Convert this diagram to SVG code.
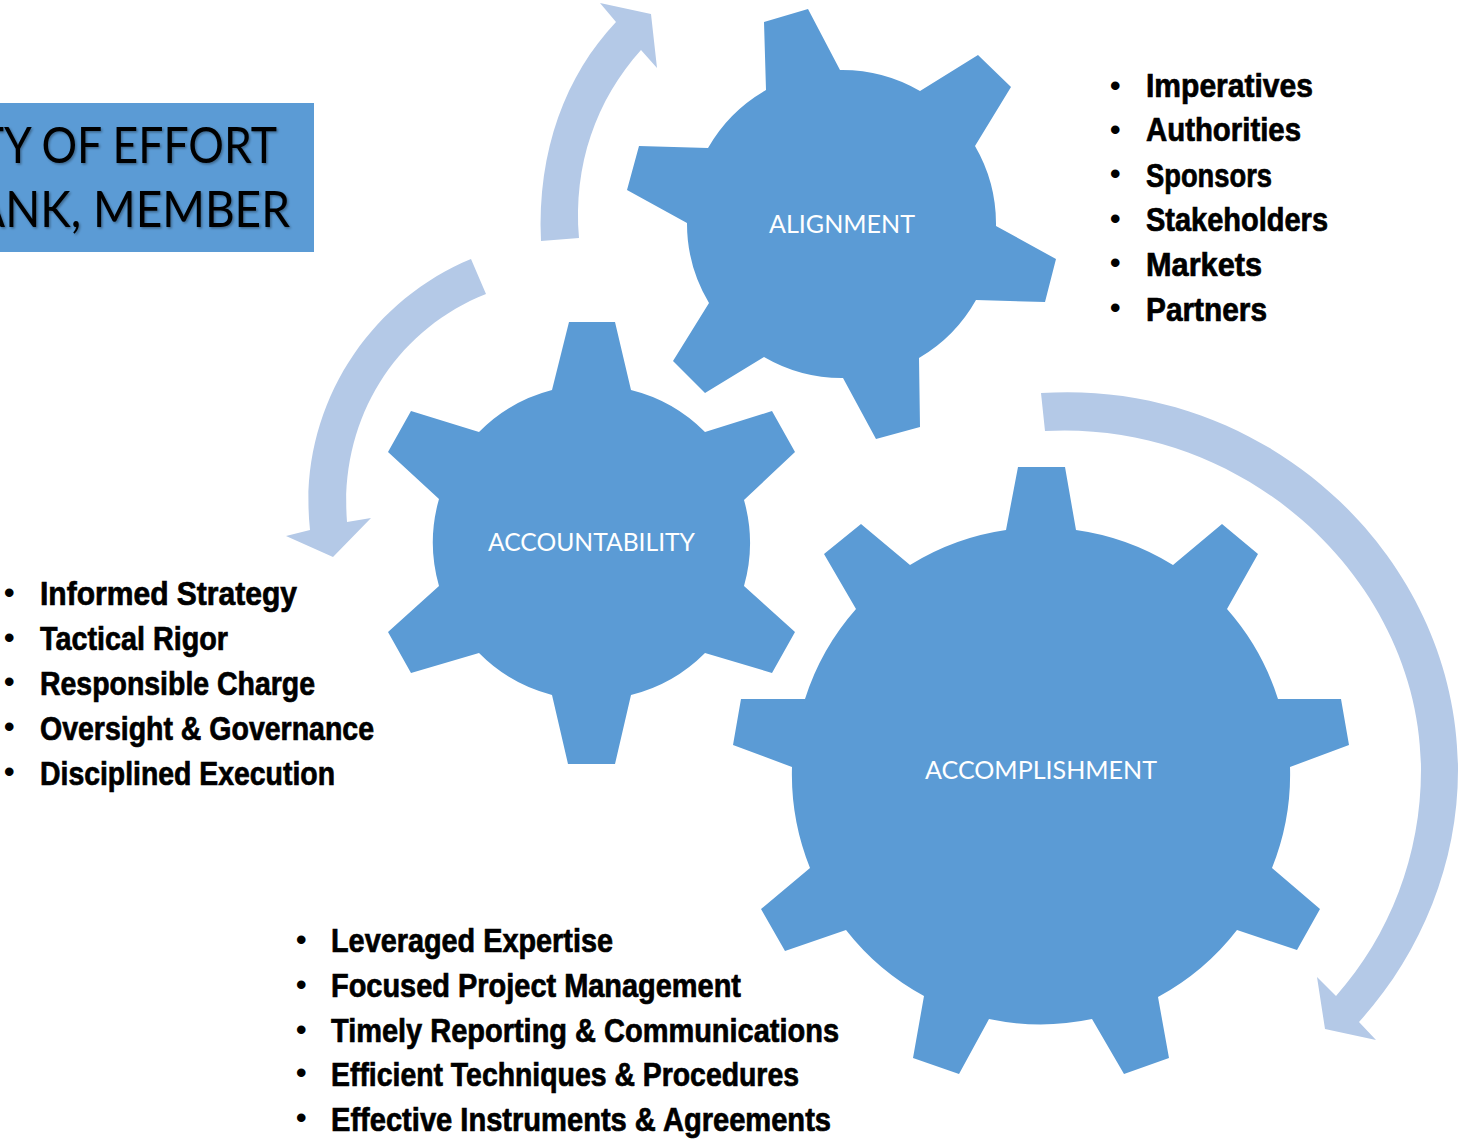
<svg xmlns="http://www.w3.org/2000/svg" width="1460" height="1140" viewBox="0 0 1460 1140">
<defs>
<filter id="shadow" x="-5%" y="-5%" width="110%" height="120%"><feDropShadow dx="1.5" dy="1.5" stdDeviation="1" flood-color="#000" flood-opacity="0.35"/></filter>
</defs>
<style>
.gear{fill:#5b9bd5}
.arrow{fill:#b4c9e7}
.lab{font-family:"Lato","Open Sans",sans-serif;font-size:25.5px;fill:#fff}
.title{font-family:"Lato","Open Sans",sans-serif;font-size:50px;fill:#000;text-anchor:end;filter:url(#shadow)}
.b{font-family:"Liberation Sans Narrow","Liberation Sans",sans-serif;font-weight:700;font-size:33px;fill:#000;stroke:#000;stroke-width:.7px}
.d{font-family:"Liberation Sans",sans-serif;font-weight:700;font-size:30px;fill:#000}
</style>
<rect x="-2" y="103" width="316" height="149" fill="#5b9bd5"/>
<text class="title" transform="translate(277 163) scale(.89 1)">TY OF EFFORT</text>
<text class="title" transform="translate(290 227) scale(.92 1)">ANK, MEMBER</text>
<g id="connectors">
<path class="arrow" d="M541 241C537 150 566 75 616 22L600 3L651 14L657 68L641 50C596 100 573 165 579 238Z"/>
<path class="arrow" d="M471 259C367 302 297 410 310 530L286 536L333 557L371 518L347 522C339 420 395 330 486 294Z"/>
<path class="arrow" d="M1041 393C1270 378 1458 560 1458 770C1458 865 1420 955 1359 1022L1376 1040L1325 1029L1317 977L1336 996C1390 935 1421 855 1421 770C1421 585 1250 420 1045 431Z"/>
</g>
<g id="alignment">
<path class="gear" d="M764 22L808 9L840 70A155 155 0 0 1 920 91L978 55L1011 87L975 146A155 155 0 0 1 996 226L1056 259L1045 302L976 300A155 155 0 0 1 919 358L920 427L876 439L843 378A155 155 0 0 1 764 357L705 393L673 361L709 303A155 155 0 0 1 687 223L627 190L639 146L708 148A155 155 0 0 1 766 90Z"/>
<text class="lab" x="769" y="233" textLength="146" lengthAdjust="spacingAndGlyphs">ALIGNMENT</text>
</g>
<g id="accountability">
<path class="gear" d="M569 322L615 322L631 390A158 158 0 0 1 705 432L772 411L795 452L744 500A158 158 0 0 1 744 586L795 632L772 673L705 653A158 158 0 0 1 631 695L615 764L568 764L552 695A158 158 0 0 1 479 653L411 673L388 632L439 586A158 158 0 0 1 439 499L388 452L411 411L479 432A158 158 0 0 1 552 390Z"/>
<text class="lab" x="488" y="551" textLength="207" lengthAdjust="spacingAndGlyphs">ACCOUNTABILITY</text>
</g>
<g id="accomplishment">
<path class="gear" d="M1018 467L1065 467L1076 530A250 250 0 0 1 1173 565L1222 524L1258 554L1227 609A250 250 0 0 1 1278 699L1341 699L1349 745L1290 767A250 250 0 0 1 1272 868L1320 909L1297 950L1237 930A250 250 0 0 1 1158 997L1169 1058L1124 1074L1092 1019A250 250 0 0 1 989 1019L959 1074L913 1058L924 996A250 250 0 0 1 846 930L785 951L761 909L810 868A250 250 0 0 1 792 767L733 745L741 699L805 699A250 250 0 0 1 856 609L824 554L861 524L910 565A250 250 0 0 1 1006 530Z"/>
<text class="lab" x="925" y="779" textLength="232" lengthAdjust="spacingAndGlyphs">ACCOMPLISHMENT</text>
</g>
<g id="list-alignment">
<text class="d" x="1110" y="96">•</text><text class="b" x="1146" y="97" textLength="167" lengthAdjust="spacingAndGlyphs">Imperatives</text>
<text class="d" x="1110" y="140">•</text><text class="b" x="1146" y="141" textLength="155" lengthAdjust="spacingAndGlyphs">Authorities</text>
<text class="d" x="1110" y="184">•</text><text class="b" x="1146" y="187" textLength="126" lengthAdjust="spacingAndGlyphs">Sponsors</text>
<text class="d" x="1110" y="229">•</text><text class="b" x="1146" y="231" textLength="182" lengthAdjust="spacingAndGlyphs">Stakeholders</text>
<text class="d" x="1110" y="273">•</text><text class="b" x="1146" y="276" textLength="116" lengthAdjust="spacingAndGlyphs">Markets</text>
<text class="d" x="1110" y="318">•</text><text class="b" x="1146" y="321" textLength="121" lengthAdjust="spacingAndGlyphs">Partners</text>
</g>
<g id="list-accountability">
<text class="d" x="4" y="603">•</text><text class="b" x="40" y="605" textLength="257" lengthAdjust="spacingAndGlyphs">Informed Strategy</text>
<text class="d" x="4" y="648">•</text><text class="b" x="40" y="650" textLength="188" lengthAdjust="spacingAndGlyphs">Tactical Rigor</text>
<text class="d" x="4" y="692">•</text><text class="b" x="40" y="695" textLength="275" lengthAdjust="spacingAndGlyphs">Responsible Charge</text>
<text class="d" x="4" y="737">•</text><text class="b" x="40" y="740" textLength="334" lengthAdjust="spacingAndGlyphs">Oversight &amp; Governance</text>
<text class="d" x="4" y="782">•</text><text class="b" x="40" y="785" textLength="295" lengthAdjust="spacingAndGlyphs">Disciplined Execution</text>
</g>
<g id="list-accomplishment">
<text class="d" x="296" y="950">•</text><text class="b" x="331" y="952" textLength="282" lengthAdjust="spacingAndGlyphs">Leveraged Expertise</text>
<text class="d" x="296" y="995">•</text><text class="b" x="331" y="997" textLength="410" lengthAdjust="spacingAndGlyphs">Focused Project Management</text>
<text class="d" x="296" y="1040">•</text><text class="b" x="331" y="1042" textLength="508" lengthAdjust="spacingAndGlyphs">Timely Reporting &amp; Communications</text>
<text class="d" x="296" y="1083">•</text><text class="b" x="331" y="1086" textLength="468" lengthAdjust="spacingAndGlyphs">Efficient Techniques &amp; Procedures</text>
<text class="d" x="296" y="1128">•</text><text class="b" x="331" y="1131" textLength="500" lengthAdjust="spacingAndGlyphs">Effective Instruments &amp; Agreements</text>
</g>
</svg>
